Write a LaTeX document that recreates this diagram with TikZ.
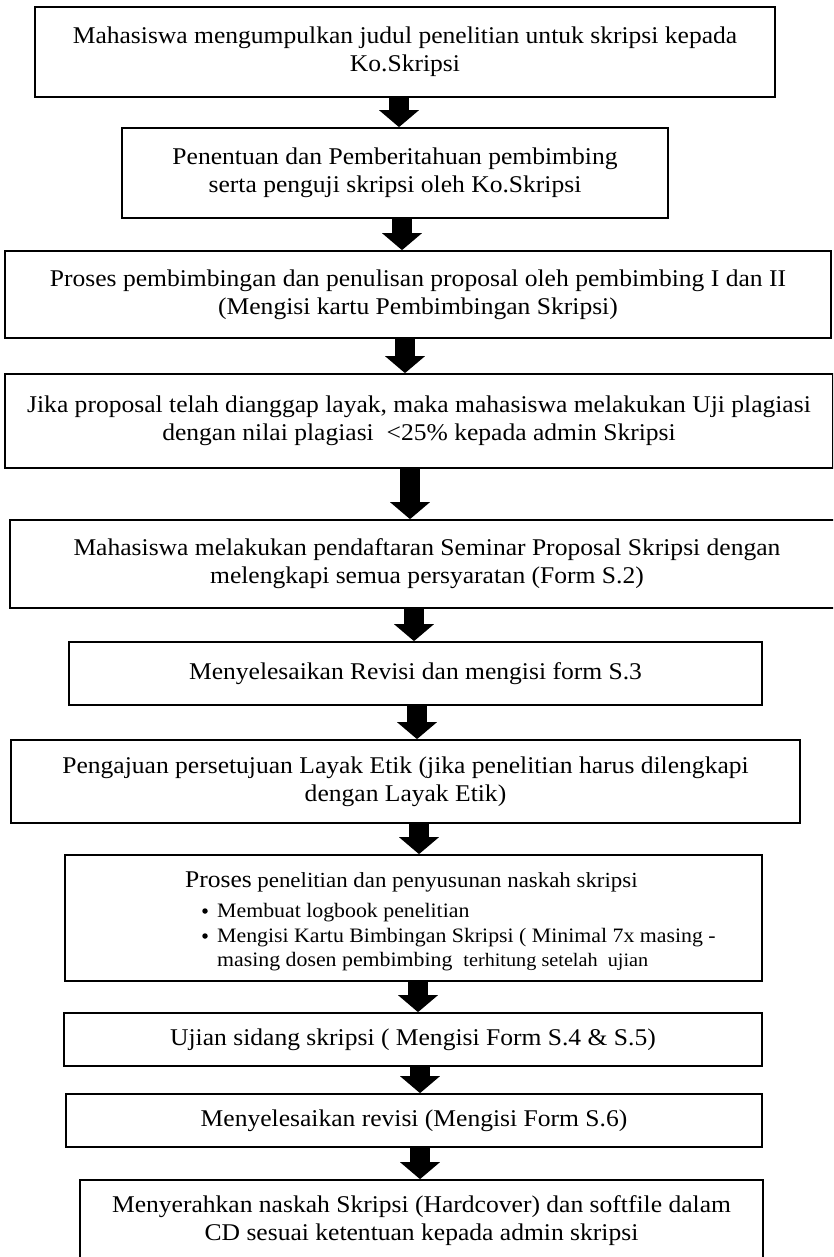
\documentclass[tikz,border=0pt]{standalone}
\usepackage{fontspec}
\setmainfont{Liberation Serif}[FakeStretch=1.065]
\usetikzlibrary{arrows.meta}
\begin{document}
\begin{tikzpicture}[x=1pt,y=-1pt,
  box/.style={draw, line width=1.7pt, inner sep=0pt, align=center, font=\fontsize{24}{28}\selectfont},
  flow/.style={line width=20pt, -{Triangle[length=17pt,width=39pt]}},
  small/.style={font=\fontsize{20.5}{24}\selectfont, inner sep=0pt, anchor=base west},
  dot/.style={circle, fill, inner sep=0pt, minimum size=5.5pt}
]
\useasboundingbox (0,0) rectangle (833,1257);
\clip (0,0) rectangle (833,1257);
\node[box, minimum width=740pt, minimum height=90pt] (b1) at (405,52) {Mahasiswa mengumpulkan judul penelitian untuk skripsi kepada\\Ko.Skripsi};
\node[box, minimum width=546pt, minimum height=90pt] (b2) at (395,173) {Penentuan dan Pemberitahuan pembimbing\\serta penguji skripsi oleh Ko.Skripsi};
\node[box, minimum width=826pt, minimum height=87pt] (b3) at (418,294.5) {Proses pembimbingan dan penulisan proposal oleh pembimbing I dan II\\(Mengisi kartu Pembimbingan Skripsi)};
\node[box, minimum width=828pt, minimum height=94pt] (b4) at (419,421) {Jika proposal telah dianggap layak, maka mahasiswa melakukan Uji plagiasi\\dengan nilai plagiasi\ \ <25\% kepada admin Skripsi};
\node[box, minimum width=834pt, minimum height=88pt] (b5) at (427,564) {Mahasiswa melakukan pendaftaran Seminar Proposal Skripsi dengan\\melengkapi semua persyaratan (Form S.2)};
\node[box, minimum width=693pt, minimum height=63pt] (b6) at (415.5,673.5) {Menyelesaikan Revisi dan mengisi form S.3};
\node[box, minimum width=789pt, minimum height=83pt] (b7) at (405.5,781.5) {Pengajuan persetujuan Layak Etik (jika penelitian harus dilengkapi\\dengan Layak Etik)};
\node[box, minimum width=697pt, minimum height=126pt] (b8) at (413.5,918) {};
\node[small] (p0) at (185,887) {{\fontsize{24}{28}\selectfont Proses} {\fontsize{21.5}{24}\selectfont penelitian dan penyusunan naskah skripsi}};
\node[dot] (d1) at (205,911) {};
\node[small] (i1) at (217,917) {Membuat logbook penelitian};
\node[dot] (d2) at (205,936) {};
\node[small] (i2) at (217,942) {Mengisi Kartu Bimbingan Skripsi ( Minimal 7x masing -};
\node[small] (i3) at (217,966) {masing dosen pembimbing\ \ {\fontsize{19}{22}\selectfont terhitung setelah\ \ ujian}};
\node[box, minimum width=698pt, minimum height=53pt] (b9) at (413,1039.5) {Ujian sidang skripsi ( Mengisi Form S.4 \& S.5)};
\node[box, minimum width=696pt, minimum height=53pt] (b10) at (414,1120.5) {Menyelesaikan revisi (Mengisi Form S.6)};
\node[box, minimum width=683pt, minimum height=82pt] (b11) at (421.5,1221) {Menyerahkan naskah Skripsi (Hardcover) dan softfile dalam\\CD sesuai ketentuan kepada admin skripsi};
\coordinate (x1) at (399,0);
\coordinate (x2) at (402,0);
\coordinate (x3) at (405,0);
\coordinate (x4) at (410,0);
\coordinate (x5) at (414,0);
\coordinate (x6) at (417,0);
\coordinate (x7) at (419,0);
\coordinate (x8) at (418,0);
\coordinate (x9) at (420,0);
\coordinate (x10) at (420,0);
\draw[flow] (b1.south -| x1) -- (b2.north -| x1);
\draw[flow] (b2.south -| x2) -- (b3.north -| x2);
\draw[flow] (b3.south -| x3) -- (b4.north -| x3);
\draw[flow] (b4.south -| x4) -- (b5.north -| x4);
\draw[flow] (b5.south -| x5) -- (b6.north -| x5);
\draw[flow] (b6.south -| x6) -- (b7.north -| x6);
\draw[flow] (b7.south -| x7) -- (b8.north -| x7);
\draw[flow] (b8.south -| x8) -- (b9.north -| x8);
\draw[flow] (b9.south -| x9) -- (b10.north -| x9);
\draw[flow] (b10.south -| x10) -- (b11.north -| x10);
\end{tikzpicture}
\end{document}
